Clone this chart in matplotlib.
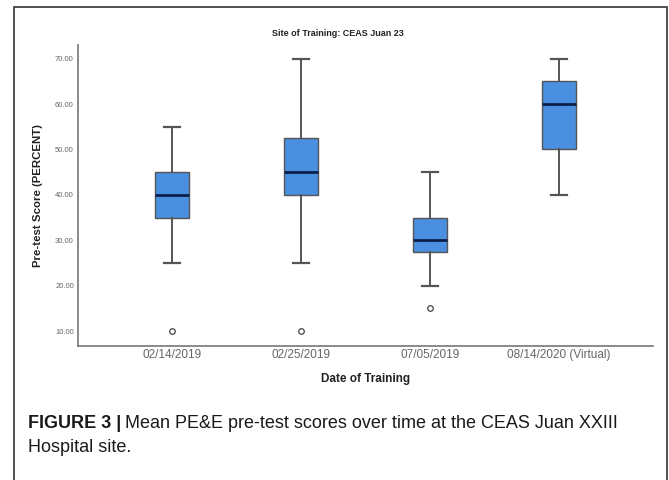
import matplotlib.pyplot as plt
from matplotlib.patches import Rectangle

# data
dates = ["02/14/2019", "02/25/2019", "07/05/2019", "08/14/2020 (Virtual)"]
whisk_lo = [25, 25, 20, 40]
q1 = [35, 40, 27.5, 50]
med = [40, 45, 30, 60]
q3 = [45, 52.5, 35, 65]
whisk_hi = [55, 70, 45, 70]
outliers = [[10], [10], [15], []]
yticks = [10, 20, 30, 40, 50, 60, 70]

plt.rcParams['font.family'] = ['Liberation Sans', 'DejaVu Sans']

W, H = 669, 480
fig = plt.figure(figsize=(W/100, H/100), dpi=100, facecolor="white")

# outer frame
fig.add_artist(Rectangle((14/W, -0.05), (667-14)/W, (480-7)/H + 0.05,
                         transform=fig.transFigure, fill=False,
                         edgecolor="#333333", linewidth=1.2))

ax = fig.add_axes([78/W, (480-346)/H, 575/W, (346-45)/H])

stats = []
for i in range(len(dates)):
    stats.append(dict(whislo=whisk_lo[i], q1=q1[i], med=med[i],
                      q3=q3[i], whishi=whisk_hi[i], fliers=outliers[i]))

ax.bxp(stats, positions=range(len(dates)), widths=0.26,
       patch_artist=True, showfliers=True,
       boxprops=dict(facecolor="#4a8fe0", edgecolor="#555555", linewidth=1.0),
       medianprops=dict(color="#0b1f4a", linewidth=2.0),
       whiskerprops=dict(color="#555555", linewidth=1.4),
       capprops=dict(color="#555555", linewidth=1.6),
       capwidths=0.13,
       flierprops=dict(marker="o", markersize=4, markerfacecolor="white",
                       markeredgecolor="#444444", markeredgewidth=0.9))

ax.set_xlim(-0.73, 3.73)
ax.set_ylim(6.7, 73)
ax.set_yticks(yticks)
ax.set_yticklabels(["%.2f" % v for v in yticks], fontsize=5.5, color="#666666")
ax.set_xticks(range(len(dates)))
ax.set_xticklabels(dates, fontsize=8.5, color="#666666")
ax.tick_params(length=0, pad=2)
ax.tick_params(axis="y", pad=3)
for s in ["top", "right"]:
    ax.spines[s].set_visible(False)
for s in ["left", "bottom"]:
    ax.spines[s].set_color("#777777")
    ax.spines[s].set_linewidth(1.2)

ax.set_xlabel("Date of Training", fontsize=8.5, fontweight="bold", labelpad=9,
              color="#222222")
ax.set_ylabel("Pre-test Score (PERCENT)", fontsize=8.2, fontweight="bold",
              labelpad=9, color="#222222")
fig.text(338/W, 1 - 34/H, "Site of Training: CEAS Juan 23", fontsize=6.5,
         fontweight="bold", ha="center", va="center", color="#222222")

# caption
cap_font = dict(fontsize=13, va="center", ha="left", color="#1a1a1a")
t1 = fig.text(28/W, 1 - 423/H, "FIGURE 3 |", fontweight="bold", **cap_font)
fig.canvas.draw()
bb = t1.get_window_extent()
fig.text(bb.x1/W + 4/W, 1 - 423/H,
         "Mean PE&E pre-test scores over time at the CEAS Juan XXIII", **cap_font)
fig.text(28/W, 1 - 448/H, "Hospital site.", **cap_font)

fig.savefig("out.png", dpi=100)
